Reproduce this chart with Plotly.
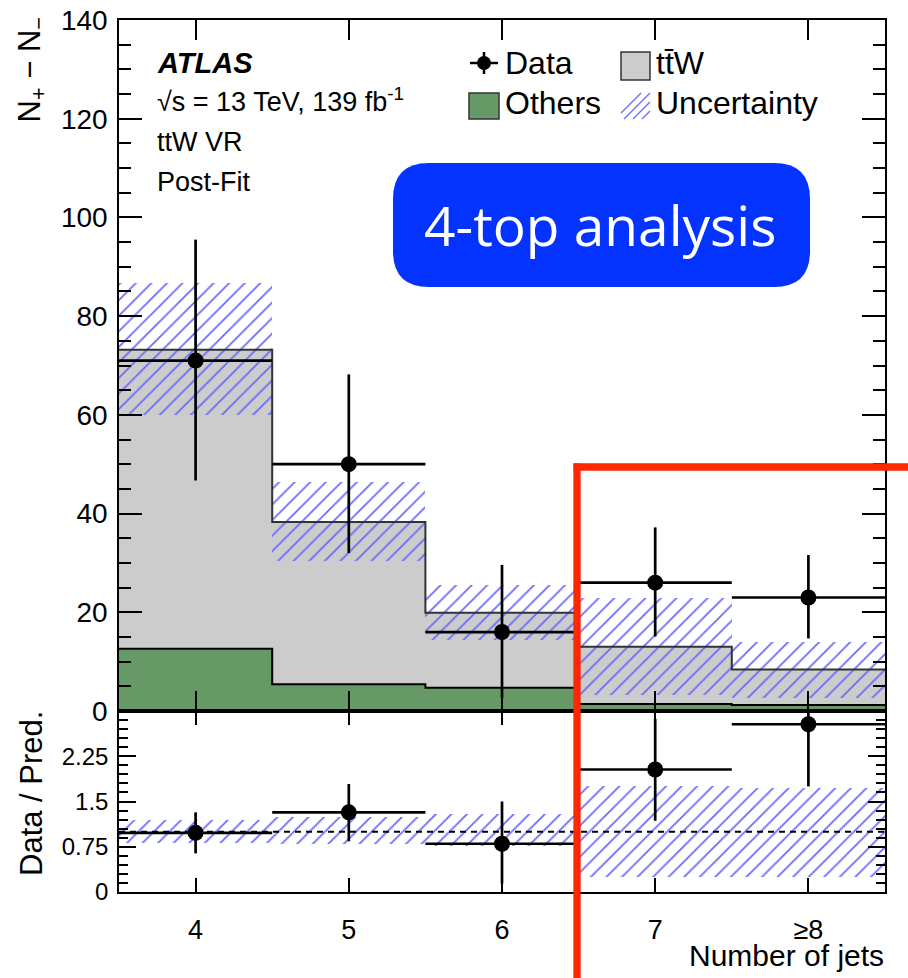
import plotly.graph_objects as go
from plotly.subplots import make_subplots

# ---------------- data ----------------
njets = [4, 5, 6, 7, 8]
nj_labels = ["4", "5", "6", "7", "≥8"]
bin_edges = [3.5, 4.5, 5.5, 6.5, 7.5, 8.5]

others = [12.6, 5.4, 4.7, 1.4, 1.2]
ttw = [60.6, 32.9, 15.2, 11.6, 7.2]
total_pred = [73.2, 38.3, 19.9, 13.0, 8.4]
unc_up = [86.7, 46.4, 25.6, 22.9, 14.0]
unc_down = [59.9, 30.3, 14.4, 3.2, 2.6]

data = [71, 50, 16, 26, 23]
data_err_up = [24.5, 18.2, 13.6, 11.2, 8.6]
data_err_down = [24.3, 18.0, 13.4, 10.9, 8.3]

ratio = [0.98, 1.32, 0.80, 2.03, 2.78]
ratio_err_up = [0.34, 0.47, 0.70, 0.84, 1.03]
ratio_err_down = [0.34, 0.48, 0.66, 0.85, 1.03]
ratio_band_up = [1.19, 1.24, 1.29, 1.76, 1.72]
ratio_band_down = [0.82, 0.80, 0.76, 0.25, 0.25]

# ---------------- styling ----------------
FONT = "Liberation Sans, Arial, Helvetica, sans-serif"
GRAY = "#cccccc"
GREEN = "#669966"
HATCH = "rgb(105,105,255)"
W, H = 908, 978
L, R, T, B = 119, 23, 20, 86
PW, PH = W - L - R, H - T - B


def px(x):
    return (x - L) / PW


def py(y):
    return (H - B - y) / PH


main_frac = 691 / PH
fig = make_subplots(rows=2, cols=1, shared_xaxes=True,
                    row_heights=[main_frac, 1 - main_frac], vertical_spacing=0)

hatch = dict(shape="/", fgcolor=HATCH, bgcolor="rgba(0,0,0,0)", size=11, solidity=0.16, fgopacity=1)

# main panel stack
fig.add_trace(go.Bar(x=njets, y=others, width=1, marker=dict(color=GREEN, line=dict(width=0)),
                     showlegend=False, name="Others"), row=1, col=1)
fig.add_trace(go.Bar(x=njets, y=ttw, base=others, width=1, marker=dict(color=GRAY, line=dict(width=0)),
                     showlegend=False, name="ttW"), row=1, col=1)
fig.add_trace(go.Bar(x=njets, y=[u - d for u, d in zip(unc_up, unc_down)], base=unc_down, width=1,
                     marker=dict(color="rgba(0,0,0,0)", line=dict(width=0), pattern=hatch),
                     showlegend=False, name="Uncertainty"), row=1, col=1)
# step outlines
fig.add_trace(go.Scatter(x=bin_edges, y=others + [others[-1]], mode="lines", line_shape="hv",
                         line=dict(color="black", width=2), showlegend=False, hoverinfo="skip"), row=1, col=1)
fig.add_trace(go.Scatter(x=bin_edges, y=total_pred + [total_pred[-1]], mode="lines", line_shape="hv",
                         line=dict(color="#333333", width=2), showlegend=False, hoverinfo="skip"), row=1, col=1)
# data
fig.add_trace(go.Scatter(x=njets, y=data, mode="markers",
                         marker=dict(color="black", size=16),
                         error_y=dict(type="data", symmetric=False, array=data_err_up,
                                      arrayminus=data_err_down, color="black", thickness=2.7, width=0),
                         error_x=dict(type="constant", value=0.5, color="black", thickness=2.7, width=0),
                         showlegend=False, name="Data"), row=1, col=1)

# ratio panel
fig.add_trace(go.Bar(x=njets, y=[u - d for u, d in zip(ratio_band_up, ratio_band_down)], base=ratio_band_down,
                     width=1, marker=dict(color="rgba(0,0,0,0)", line=dict(width=0), pattern=hatch),
                     showlegend=False), row=2, col=1)
fig.add_trace(go.Scatter(x=[bin_edges[0], bin_edges[-1]], y=[1, 1], mode="lines",
                         line=dict(color="black", width=2, dash="6px,5px"), showlegend=False,
                         hoverinfo="skip"), row=2, col=1)
fig.add_trace(go.Scatter(x=njets, y=ratio, mode="markers",
                         marker=dict(color="black", size=16),
                         error_y=dict(type="data", symmetric=False, array=ratio_err_up,
                                      arrayminus=ratio_err_down, color="black", thickness=2.7, width=0),
                         error_x=dict(type="constant", value=0.5, color="black", thickness=2.7, width=0),
                         showlegend=False), row=2, col=1)

axis_common = dict(showline=True, linecolor="black", linewidth=1.5, mirror="allticks",
                   ticks="inside", tickcolor="black", tickwidth=1.5, showgrid=False, zeroline=False,
                   automargin=False)

fig.update_xaxes(**axis_common, range=[3.5, 8.5], tickvals=njets, ticktext=nj_labels)
fig.update_xaxes(row=1, col=1, ticklen=20, showticklabels=False)
fig.update_xaxes(row=2, col=1, ticklen=14, tickfont=dict(family=FONT, size=27, color="black"),
                 ticklabelstandoff=13)
fig.update_yaxes(row=1, col=1, **axis_common, range=[0, 140], dtick=20, ticklen=23,
                 minor=dict(dtick=5, ticklen=12, ticks="inside", tickcolor="black", tickwidth=1.5),
                 tickfont=dict(family=FONT, size=28, color="black"), ticklabelstandoff=4)
fig.update_yaxes(row=2, col=1, **axis_common, range=[0, 3], tickvals=[0, 0.75, 1.5, 2.25],
                 ticktext=["0", "0.75", "1.5", "2.25"], ticklen=17,
                 minor=dict(dtick=0.15, ticklen=9, ticks="inside", tickcolor="black", tickwidth=1.5),
                 tickfont=dict(family=FONT, size=24, color="black"), ticklabelstandoff=4)

ann = []
def text(x, y, s, size, xanchor="left", yanchor="middle", angle=0, color="black", family=FONT):
    ann.append(dict(x=px(x), y=py(y), xref="paper", yref="paper", text=s, showarrow=False,
                    xanchor=xanchor, yanchor=yanchor, textangle=angle,
                    font=dict(family=family, size=size, color=color)))

# axis titles
text(32, 16, "N<sub>+</sub> − N<sub>−</sub>", 31, xanchor="center", yanchor="top", angle=-90)
text(31, 794, "Data / Pred.", 31, xanchor="center", yanchor="middle", angle=-90)
text(886, 955, "Number of jets", 30, xanchor="right")

# ATLAS labels
text(155, 63, "<b><i>ATLAS</i></b>", 29)
text(155, 100, "√s = 13 TeV, 139 fb<sup>-1</sup>", 27)
text(155, 142, "ttW VR", 27)
text(155, 182, "Post-Fit", 27)

# legend texts
text(503, 63, "Data", 32)
text(654, 63, "tt\u0304W", 32)
text(503, 103, "Others", 32)
text(654, 103, "Uncertainty", 32)

# blue box text
text(600, 224, "4-top analysis", 55, xanchor="center", color="white", family="Open Sans, sans-serif")

shapes = []
def pshape(**kw):
    kw.setdefault("xref", "paper")
    kw.setdefault("yref", "paper")
    shapes.append(kw)

# legend glyphs
pshape(type="line", x0=px(470), x1=px(498), y0=py(63), y1=py(63), line=dict(color="black", width=2.5))
pshape(type="line", x0=px(484), x1=px(484), y0=py(52), y1=py(74), line=dict(color="black", width=2.5))
pshape(type="circle", x0=px(477), x1=px(491), y0=py(70), y1=py(56), fillcolor="black", line=dict(width=0))
pshape(type="rect", x0=px(621), x1=px(650), y0=py(80), y1=py(52), fillcolor=GRAY,
       line=dict(color="#333333", width=1.5))
pshape(type="rect", x0=px(469), x1=px(499), y0=py(119), y1=py(93), fillcolor=GREEN,
       line=dict(color="#333333", width=1.5))
for k in range(4):
    x0 = 621 + k * 9 - 6
    pshape(type="line", x0=px(max(x0, 621)), y0=py(119 - (max(x0, 621) - x0)),
           x1=px(min(x0 + 26, 650)), y1=py(93 + max(0, x0 + 26 - 650)),
           line=dict(color=HATCH, width=1.2))

# rounded blue box
bx0, bx1, by0, by1, r = 393, 810, 163, 287, 36
path = (f"M {px(bx0 + r)},{py(by0)} L {px(bx1 - r)},{py(by0)} Q {px(bx1)},{py(by0)} {px(bx1)},{py(by0 + r)} "
        f"L {px(bx1)},{py(by1 - r)} Q {px(bx1)},{py(by1)} {px(bx1 - r)},{py(by1)} "
        f"L {px(bx0 + r)},{py(by1)} Q {px(bx0)},{py(by1)} {px(bx0)},{py(by1 - r)} "
        f"L {px(bx0)},{py(by0 + r)} Q {px(bx0)},{py(by0)} {px(bx0 + r)},{py(by0)} Z")
pshape(type="path", path=path, fillcolor="#0433ff", line=dict(width=0), layer="above")

# red highlight
RED = "#ff2600"
pshape(type="line", x0=px(577), x1=px(577), y0=py(463.5), y1=py(985), line=dict(color=RED, width=7.3))
pshape(type="line", x0=px(573.5), x1=px(915), y0=py(467), y1=py(467), line=dict(color=RED, width=7.3))

fig.update_layout(width=W, height=H, margin=dict(l=L, r=R, t=T, b=B, autoexpand=False),
                  paper_bgcolor="white", plot_bgcolor="white",
                  barmode="overlay", bargap=0, showlegend=False,
                  annotations=ann, shapes=shapes, font=dict(family=FONT, color="black"))

fig.write_html("out.html")
